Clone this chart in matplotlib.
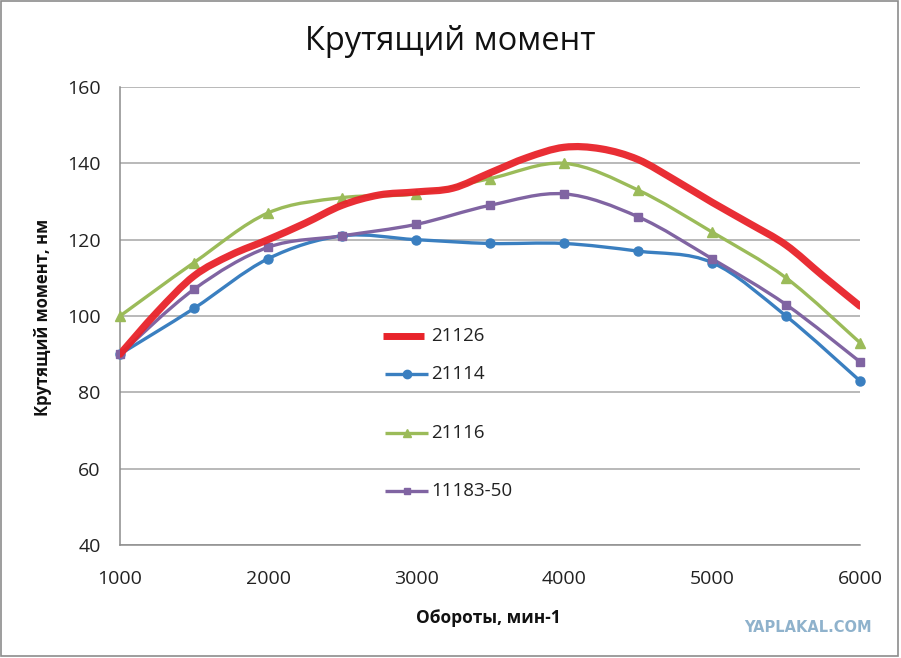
import matplotlib
matplotlib.use("Agg")
import matplotlib.pyplot as plt
from matplotlib.path import Path
from matplotlib.patches import PathPatch, Rectangle
import numpy as np

plt.rcParams['font.family'] = ['Open Sans', 'DejaVu Sans']

rpm = [1000, 1500, 2000, 2500, 3000, 3500, 4000, 4500, 5000, 5500, 6000]
t21114 = [90, 102, 115, 121, 120, 119, 119, 117, 114, 100, 83]
t21116 = [100, 114, 127, 131, 132, 136, 140, 133, 122, 110, 93]
t11183 = [90, 107, 118, 121, 124, 129, 132, 126, 115, 103, 88]
rpm_red = [1000, 1250, 1500, 1750, 2000, 2250, 2500, 2750, 3000, 3250, 3500,
           3750, 4000, 4250, 4500, 4750, 5000, 5250, 5500, 5750, 6000]
t21126 = [90, 101, 110.5, 116, 120, 124.3, 129, 131.7, 132.5, 133.5, 137.5,
          141.5, 144.2, 143.8, 141, 135.6, 129.8, 124.3, 118.6, 110.5, 102.6]

labels = ['21126', '21114', '21116', '11183-50']
colors = ['#e8232a', '#3a7fc0', '#9bbb59', '#8064a2']


def smooth_path(xs, ys, k=1/6):
    xs = np.asarray(xs, float)
    ys = np.asarray(ys, float)
    n = len(xs)
    verts = [(xs[0], ys[0])]
    codes = [Path.MOVETO]
    for i in range(n - 1):
        p0 = np.array([xs[max(i - 1, 0)], ys[max(i - 1, 0)]])
        p1 = np.array([xs[i], ys[i]])
        p2 = np.array([xs[i + 1], ys[i + 1]])
        p3 = np.array([xs[min(i + 2, n - 1)], ys[min(i + 2, n - 1)]])
        c1 = p1 + (p2 - p0) * k
        c2 = p2 - (p3 - p1) * k
        verts += [tuple(c1), tuple(c2), tuple(p2)]
        codes += [Path.CURVE4] * 3
    return Path(verts, codes)


fig = plt.figure(figsize=(9.01, 6.58), dpi=100)
ax = fig.add_axes([0.1332, 0.1717, 0.8213, 0.6961])

ax.set_xlim(1000, 6000)
ax.set_ylim(40, 160)
ax.set_xticks(range(1000, 6001, 1000))
ax.set_yticks(range(40, 161, 20))
ax.yaxis.grid(True, color='#a6a6a6', linewidth=1.1)
ax.set_axisbelow(True)
for s in ['top', 'right']:
    ax.spines[s].set_visible(False)
for s in ['left', 'bottom']:
    ax.spines[s].set_color('#8c8c8c')
    ax.spines[s].set_linewidth(1.1)
ax.tick_params(length=0, labelsize=14, colors='#222222')
ax.tick_params(axis='x', pad=18)
ax.tick_params(axis='y', pad=14)

series = [(rpm, t21114, colors[1], 'o', 6.5),
          (rpm, t21116, colors[2], '^', 6.5),
          (rpm, t11183, colors[3], 's', 5.5)]
for xs, ys, c, m, ms in series:
    ax.add_patch(PathPatch(smooth_path(xs, ys), facecolor='none', edgecolor=c,
                           linewidth=2.4, capstyle='round', joinstyle='round', zorder=3))
    ax.plot(xs, ys, linestyle='none', marker=m, markersize=ms, color=c,
            clip_on=False, zorder=4)

ax.add_patch(PathPatch(smooth_path(rpm_red, t21126), facecolor='none',
                       edgecolor=colors[0], linewidth=5.2, capstyle='round',
                       joinstyle='round', zorder=5, alpha=0.95))

# manual legend
leg_y = [336, 374, 433, 491]
markers = [None, 'o', '^', 's']
for lab, c, m, py in zip(labels, colors, markers, leg_y):
    fy = 1 - py / 658
    if m is None:
        fig.add_artist(plt.Line2D([383 / 901, 424 / 901], [fy, fy], color=c,
                                  linewidth=5, solid_capstyle='butt'))
    else:
        fig.add_artist(plt.Line2D([385 / 901, 428 / 901], [fy, fy], color=c,
                                  linewidth=2.4, solid_capstyle='butt'))
        fig.add_artist(plt.Line2D([407 / 901], [fy], color=c, marker=m,
                                  markersize=6 if m != 's' else 5, linestyle='none'))
    fig.text(431 / 901, fy, lab, fontsize=13.5, va='center', ha='left', color='#222222')

fig.text(450 / 901, 1 - 42 / 658, 'Крутящий момент', fontsize=23.5,
         ha='center', va='center', color='#111111')
fig.text(43 / 901, 1 - 317 / 658, 'Крутящий момент, нм', fontsize=12,
         fontweight='bold', rotation=90, ha='center', va='center', color='#111111')
fig.text(488 / 901, 1 - 618 / 658, 'Обороты, мин-1', fontsize=12.5,
         fontweight='bold', ha='center', va='center', color='#111111')
fig.text(808 / 901, 1 - 628 / 658, 'YAPLAKAL.COM', fontsize=10.5,
         fontweight='heavy', ha='center', va='center', color='#8fb2cc',
         family=['DejaVu Sans'])

fig.add_artist(Rectangle((0.001, 0.003), 0.996, 0.995, transform=fig.transFigure,
                         fill=False, edgecolor='#8c8c8c', linewidth=1.2))

fig.savefig('out.png', dpi=100)
